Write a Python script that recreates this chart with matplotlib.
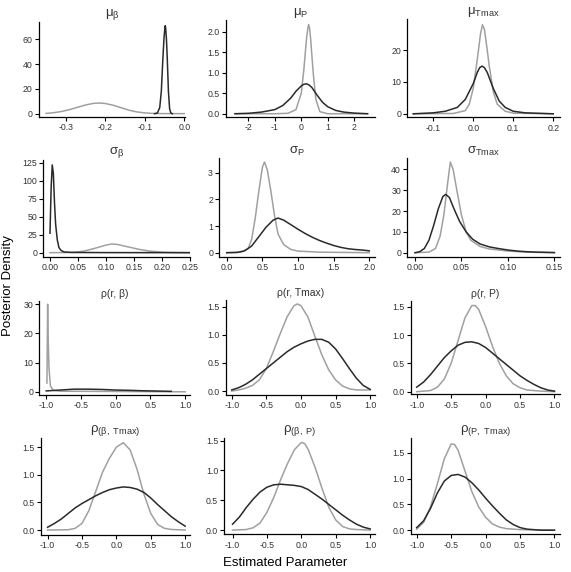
import matplotlib
matplotlib.use("Agg")
import matplotlib.pyplot as plt

plt.rcParams["font.family"] = ["Liberation Sans", "DejaVu Sans"]
plt.rcParams["mathtext.fontset"] = "custom"
plt.rcParams["mathtext.rm"] = "Liberation Sans"
plt.rcParams["mathtext.it"] = "Liberation Sans"

dark = "#2a2a2a"
light = "#a0a0a0"

# ---- data: (x, y) pairs for each curve
# mu_beta
mb_gx = [-0.35, -0.33, -0.31, -0.29, -0.27, -0.25, -0.23, -0.215, -0.20, -0.18, -0.16, -0.14, -0.12, -0.10, -0.08, -0.06, 0.0]
mb_gy = [0.2, 0.8, 1.8, 3.3, 5.2, 7.0, 8.3, 8.6, 8.2, 6.8, 4.8, 2.8, 1.4, 0.6, 0.2, 0.05, 0.0]
mb_dx = [-0.075, -0.068, -0.062, -0.058, -0.054, -0.051, -0.049, -0.048, -0.047, -0.045, -0.043, -0.040, -0.037, -0.034, -0.030]
mb_dy = [0.0, 0.5, 5, 18, 45, 62, 69, 71, 69, 60, 45, 18, 4, 0.5, 0.0]

# mu_P
mp_gx = [-2.5, -1.0, -0.5, -0.2, 0.0, 0.1, 0.2, 0.25, 0.28, 0.31, 0.35, 0.45, 0.55, 0.7, 1.0, 2.5]
mp_gy = [0.0, 0.0, 0.01, 0.1, 0.5, 1.1, 1.85, 2.1, 2.18, 2.1, 1.85, 1.0, 0.35, 0.05, 0.0, 0.0]
mp_dx = [-2.5, -2.0, -1.5, -1.0, -0.7, -0.4, -0.2, 0.0, 0.1, 0.2, 0.3, 0.4, 0.6, 0.8, 1.0, 1.3, 1.6, 2.0, 2.5]
mp_dy = [0.0, 0.01, 0.04, 0.1, 0.2, 0.38, 0.55, 0.68, 0.72, 0.73, 0.7, 0.64, 0.45, 0.28, 0.17, 0.08, 0.04, 0.015, 0.0]

# mu_Tmax
mt_gx = [-0.15, -0.05, -0.02, -0.01, 0.0, 0.01, 0.018, 0.023, 0.028, 0.035, 0.04, 0.05, 0.06, 0.08, 0.1, 0.2]
mt_gy = [0, 0.1, 1, 3, 8, 17, 25, 28, 26.5, 20, 15, 7, 3, 0.8, 0.2, 0]
mt_dx = [-0.15, -0.1, -0.07, -0.04, -0.02, 0.0, 0.01, 0.016, 0.022, 0.028, 0.035, 0.05, 0.065, 0.08, 0.1, 0.13, 0.2]
mt_dy = [0, 0.3, 0.8, 2, 4.5, 9.5, 13, 14.5, 15, 14.5, 13, 8, 4, 2, 0.8, 0.3, 0]

# sigma_beta
sb_gx = [0.0, 0.04, 0.06, 0.08, 0.10, 0.11, 0.12, 0.14, 0.16, 0.18, 0.20, 0.22, 0.25]
sb_gy = [0, 0.3, 2, 6, 10.5, 12, 11.5, 8, 4.5, 2, 0.8, 0.3, 0]
sb_dx = [0.0, 0.002, 0.004, 0.006, 0.008, 0.010, 0.013, 0.016, 0.02, 0.025, 0.04, 0.1, 0.25]
sb_dy = [27, 90, 122, 110, 70, 40, 18, 7, 3, 1, 0.3, 0.1, 0]

# sigma_P
sp_gx = [0.0, 0.2, 0.3, 0.35, 0.4, 0.45, 0.5, 0.53, 0.57, 0.62, 0.67, 0.72, 0.8, 0.9, 1.0, 1.3, 2.0]
sp_gy = [0, 0.02, 0.15, 0.5, 1.3, 2.3, 3.2, 3.4, 3.1, 2.3, 1.4, 0.7, 0.3, 0.12, 0.06, 0.02, 0]
sp_dx = [0.0, 0.15, 0.25, 0.35, 0.45, 0.55, 0.65, 0.72, 0.8, 0.9, 1.0, 1.1, 1.2, 1.3, 1.4, 1.5, 1.6, 1.7, 1.8, 1.9, 2.0]
sp_dy = [0, 0.01, 0.07, 0.25, 0.6, 0.95, 1.22, 1.3, 1.22, 1.05, 0.88, 0.72, 0.58, 0.46, 0.36, 0.27, 0.2, 0.15, 0.12, 0.1, 0.07]

# sigma_Tmax
st_gx = [0.0, 0.015, 0.022, 0.027, 0.031, 0.035, 0.038, 0.041, 0.045, 0.05, 0.055, 0.06, 0.07, 0.08, 0.1, 0.12, 0.15]
st_gy = [0, 0.3, 2, 8, 18, 33, 43.5, 40, 30, 18, 10, 6, 3, 1.8, 0.8, 0.3, 0]
st_dx = [0.0, 0.005, 0.01, 0.015, 0.02, 0.025, 0.03, 0.033, 0.037, 0.042, 0.048, 0.055, 0.062, 0.07, 0.08, 0.09, 0.1, 0.11, 0.12, 0.13, 0.15]
st_dy = [0, 0.5, 2, 6, 13, 21, 27, 28, 26.5, 21, 15, 10, 6.5, 4.2, 2.8, 2, 1.3, 0.8, 0.5, 0.3, 0.1]

# rho(r, beta)
rb_gx = [-0.99, -0.98, -0.975, -0.96, -0.94, -0.9, -0.8, 0.5, 1.0]
rb_gy = [3, 30, 20, 8, 2, 0.5, 0.2, 0.05, 0]
rb_dx = [-1.0, -0.8, -0.6, -0.4, -0.2, 0.0, 0.2, 0.4, 0.6, 0.8]
rb_dy = [0.3, 0.6, 0.9, 0.9, 0.8, 0.6, 0.5, 0.35, 0.25, 0.15]

# rho(r, Tmax)
rt_gx = [-1.0, -0.9, -0.8, -0.7, -0.6, -0.5, -0.4, -0.3, -0.2, -0.1, -0.05, 0.0, 0.1, 0.2, 0.3, 0.4, 0.5, 0.6, 0.7, 0.8, 1.0]
rt_gy = [0.0, 0.02, 0.05, 0.1, 0.2, 0.4, 0.7, 1.02, 1.32, 1.52, 1.55, 1.52, 1.32, 0.98, 0.65, 0.38, 0.2, 0.09, 0.04, 0.02, 0.02]
rt_dx = [-1.0, -0.9, -0.8, -0.7, -0.6, -0.5, -0.4, -0.3, -0.2, -0.1, 0.0, 0.1, 0.2, 0.3, 0.4, 0.5, 0.6, 0.7, 0.8, 0.9, 1.0]
rt_dy = [0.02, 0.06, 0.12, 0.2, 0.3, 0.4, 0.5, 0.6, 0.7, 0.78, 0.84, 0.89, 0.92, 0.92, 0.87, 0.75, 0.58, 0.4, 0.23, 0.1, 0.03]

# rho(r, P)
rp_gx = [-1.0, -0.8, -0.7, -0.6, -0.5, -0.4, -0.3, -0.2, -0.15, -0.1, 0.0, 0.1, 0.2, 0.3, 0.4, 0.5, 0.6, 0.8, 1.0]
rp_gy = [0.0, 0.02, 0.08, 0.22, 0.5, 0.9, 1.3, 1.52, 1.52, 1.45, 1.15, 0.8, 0.5, 0.28, 0.14, 0.07, 0.03, 0.01, 0.0]
rp_dx = [-1.0, -0.9, -0.8, -0.7, -0.6, -0.5, -0.4, -0.3, -0.2, -0.1, 0.0, 0.1, 0.2, 0.3, 0.4, 0.5, 0.6, 0.7, 0.8, 0.9, 1.0]
rp_dy = [0.08, 0.17, 0.3, 0.45, 0.6, 0.72, 0.82, 0.87, 0.88, 0.85, 0.78, 0.68, 0.58, 0.48, 0.38, 0.28, 0.2, 0.13, 0.07, 0.03, 0.01]

# rho(beta, Tmax)
bt_gx = [-1.0, -0.7, -0.6, -0.5, -0.4, -0.3, -0.2, -0.1, 0.0, 0.1, 0.2, 0.3, 0.4, 0.5, 0.6, 0.7, 0.8, 1.0]
bt_gy = [0.0, 0.005, 0.03, 0.12, 0.35, 0.7, 1.05, 1.3, 1.5, 1.58, 1.45, 1.1, 0.65, 0.3, 0.1, 0.03, 0.01, 0.0]
bt_dx = [-1.0, -0.9, -0.8, -0.7, -0.6, -0.5, -0.4, -0.3, -0.2, -0.1, 0.0, 0.1, 0.2, 0.3, 0.4, 0.5, 0.6, 0.7, 0.8, 0.9, 1.0]
bt_dy = [0.05, 0.12, 0.2, 0.3, 0.4, 0.48, 0.55, 0.62, 0.68, 0.73, 0.76, 0.78, 0.77, 0.74, 0.68, 0.58, 0.46, 0.35, 0.24, 0.15, 0.07]

# rho(beta, P)
bp_gx = [-1.0, -0.8, -0.7, -0.6, -0.5, -0.4, -0.3, -0.2, -0.1, 0.0, 0.05, 0.1, 0.2, 0.3, 0.4, 0.5, 0.6, 0.7, 0.8, 1.0]
bp_gy = [0.0, 0.01, 0.04, 0.12, 0.3, 0.55, 0.85, 1.12, 1.35, 1.47, 1.45, 1.35, 1.05, 0.7, 0.38, 0.17, 0.06, 0.02, 0.01, 0.0]
bp_dx = [-1.0, -0.9, -0.8, -0.7, -0.6, -0.5, -0.4, -0.3, -0.2, -0.1, 0.0, 0.1, 0.2, 0.3, 0.4, 0.5, 0.6, 0.7, 0.8, 0.9, 1.0]
bp_dy = [0.1, 0.22, 0.38, 0.52, 0.64, 0.72, 0.76, 0.77, 0.76, 0.75, 0.73, 0.68, 0.6, 0.52, 0.43, 0.34, 0.25, 0.17, 0.1, 0.05, 0.02]

# rho(P, Tmax)
pt_gx = [-1.0, -0.9, -0.8, -0.7, -0.6, -0.5, -0.45, -0.4, -0.3, -0.2, -0.1, 0.0, 0.1, 0.2, 0.3, 0.5, 1.0]
pt_gy = [0.02, 0.15, 0.45, 0.9, 1.38, 1.67, 1.66, 1.55, 1.15, 0.75, 0.45, 0.25, 0.12, 0.06, 0.03, 0.01, 0.0]
pt_dx = [-1.0, -0.9, -0.8, -0.7, -0.6, -0.5, -0.4, -0.3, -0.2, -0.1, 0.0, 0.1, 0.2, 0.3, 0.4, 0.5, 0.6, 0.7, 0.8, 1.0]
pt_dy = [0.05, 0.18, 0.42, 0.72, 0.95, 1.06, 1.08, 1.03, 0.92, 0.78, 0.62, 0.47, 0.33, 0.2, 0.11, 0.05, 0.02, 0.01, 0.0, 0.0]

titles = ["μ$_\\mathregular{β}$", "μ$_\\mathregular{P}$", "μ$_\\mathregular{Tmax}$",
          "σ$_\\mathregular{β}$", "σ$_\\mathregular{P}$", "σ$_\\mathregular{Tmax}$",
          "ρ(r, β)", "ρ(r, Tmax)", "ρ(r, P)",
          "ρ$_\\mathregular{(β,\\ Tmax)}$", "ρ$_\\mathregular{(β,\\ P)}$", "ρ$_\\mathregular{(P,\\ Tmax)}$"]
title_sizes = [9.5, 9.5, 9.5, 9.5, 9.5, 9.5, 7.5, 7.5, 7.5, 9.5, 9.5, 9.5]

curves = [(mb_gx, mb_gy, mb_dx, mb_dy), (mp_gx, mp_gy, mp_dx, mp_dy), (mt_gx, mt_gy, mt_dx, mt_dy),
          (sb_gx, sb_gy, sb_dx, sb_dy), (sp_gx, sp_gy, sp_dx, sp_dy), (st_gx, st_gy, st_dx, st_dy),
          (rb_gx, rb_gy, rb_dx, rb_dy), (rt_gx, rt_gy, rt_dx, rt_dy), (rp_gx, rp_gy, rp_dx, rp_dy),
          (bt_gx, bt_gy, bt_dx, bt_dy), (bp_gx, bp_gy, bp_dx, bp_dy), (pt_gx, pt_gy, pt_dx, pt_dy)]

rho_x = ([-1.0, -0.5, 0.0, 0.5, 1.0], ["-1.0", "-0.5", "0.0", "0.5", "1.0"])
rho_y = ([0, 0.5, 1.0, 1.5], ["0.0", "0.5", "1.0", "1.5"])
xticks = [([-0.3, -0.2, -0.1, 0.0], ["-0.3", "-0.2", "-0.1", "0.0"]),
          ([-2, -1, 0, 1, 2], ["-2", "-1", "0", "1", "2"]),
          ([-0.1, 0.0, 0.1, 0.2], ["-0.1", "0.0", "0.1", "0.2"]),
          ([0, 0.05, 0.1, 0.15, 0.2, 0.25], ["0.00", "0.05", "0.10", "0.15", "0.20", "0.25"]),
          ([0, 0.5, 1.0, 1.5, 2.0], ["0.0", "0.5", "1.0", "1.5", "2.0"]),
          ([0, 0.05, 0.1, 0.15], ["0.00", "0.05", "0.10", "0.15"]),
          rho_x, rho_x, rho_x, rho_x, rho_x, rho_x]
yticks = [([0, 20, 40, 60], ["0", "20", "40", "60"]),
          ([0, 0.5, 1.0, 1.5, 2.0], ["0.0", "0.5", "1.0", "1.5", "2.0"]),
          ([0, 10, 20], ["0", "10", "20"]),
          ([0, 25, 50, 75, 100, 125], ["0", "25", "50", "75", "100", "125"]),
          ([0, 1, 2, 3], ["0", "1", "2", "3"]),
          ([0, 10, 20, 30, 40], ["0", "10", "20", "30", "40"]),
          ([0, 10, 20, 30], ["0", "10", "20", "30"]),
          rho_y, rho_y, rho_y, rho_y, rho_y]

# axes boxes in pixels: left, top, right, bottom ; limits
boxes = [(39, 22, 185, 117), (225.7, 20, 375, 117), (407.3, 19, 560, 117.3),
         (43.3, 160, 190, 256.7), (219.3, 158.3, 375, 256.7), (407.3, 158.3, 560, 256.7),
         (39.3, 300.7, 190, 395), (225.7, 300, 375, 395), (410.7, 301, 560, 394.3),
         (40.7, 438.3, 190, 535), (224.3, 438.3, 375, 534.3), (410.7, 438.3, 560, 534.3)]
xlims = [(-0.368, 0.002), (-2.85, 2.78), (-0.165, 0.217),
         (-0.012, 0.2505), (-0.104, 2.08), (-0.0083, 0.156),
         (-1.1, 1.07), (-1.087, 1.07), (-1.087, 1.08),
         (-1.1, 1.07), (-1.12, 1.07), (-1.087, 1.08)]
ylims = [(-2.7, 74), (-0.08, 2.29), (-1.1, 29.8),
         (-5.6, 128.8), (-0.15, 3.54), (-1.9, 45.3),
         (-1.1, 31.2), (-0.07, 1.62), (-0.046, 1.6),
         (-0.09, 1.66), (-0.07, 1.54), (-0.08, 1.78)]

W, H = 571, 572
fig = plt.figure(figsize=(W / 100, H / 100), dpi=100)

for i in range(12):
    l, t, r, b = boxes[i]
    ax = fig.add_axes([l / W, 1 - b / H, (r - l) / W, (b - t) / H])
    gx, gy, dx, dy = curves[i]
    ax.plot(gx, gy, color=light, lw=1.1)
    ax.plot(dx, dy, color=dark, lw=1.1)
    ax.set_xlim(*xlims[i])
    ax.set_ylim(*ylims[i])
    ax.set_xticks(xticks[i][0], xticks[i][1])
    ax.set_yticks(yticks[i][0], yticks[i][1])
    ax.tick_params(labelsize=6.3, length=3, width=0.8, pad=1.5, labelcolor="#333333")
    for s in ["top", "right"]:
        ax.spines[s].set_visible(False)
    for s in ["left", "bottom"]:
        ax.spines[s].set_linewidth(0.9)
    ax.set_title(titles[i], fontsize=title_sizes[i], pad=3, color="#333333")

fig.text(8 / W, 1 - 286 / H, "Posterior Density", rotation=90, ha="center", va="center", fontsize=9.5)
fig.text(285 / W, 1 - 563 / H, "Estimated Parameter", ha="center", va="center", fontsize=9.5)

fig.savefig("out.png", dpi=100)
